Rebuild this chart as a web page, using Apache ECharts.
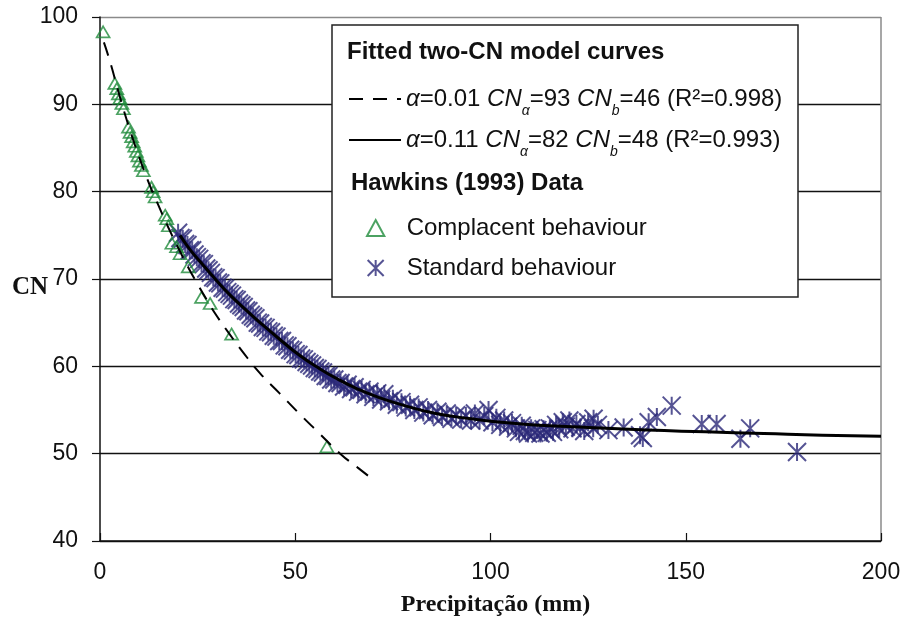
<!DOCTYPE html>
<html><head><meta charset="utf-8">
<script src="https://cdn.jsdelivr.net/npm/echarts@6/dist/echarts.min.js"></script>
<style>html,body{margin:0;padding:0;background:#fff}#c{width:904px;height:620px}</style>
</head><body><div id="c"></div>
<script>
// ---- data ----
const xTicks = [0, 50, 100, 150, 200];
const yTicks = [40, 50, 60, 70, 80, 90, 100];

// Hawkins (1993) – complacent behaviour (P mm, CN)
const complacent = [
  [0.8,98.3],[3.8,92.4],[4.3,91.8],[4.7,91.2],[5.1,90.7],[5.6,90.1],[6.0,89.5],
  [7.3,87.4],[7.7,86.8],[8.1,86.3],[8.5,85.7],[8.9,85.2],[9.3,84.6],[9.7,84.1],
  [10.1,83.5],[10.6,83.0],[11.1,82.4],[13.2,80.5],[13.6,80.0],[14.1,79.4],
  [16.7,77.3],[17.1,76.9],[17.5,76.1],[18.4,74.1],[19.6,73.7],[20.5,72.9],
  [22.6,71.4],[26.0,67.9],[28.2,67.2],[33.7,63.7],[58.1,50.8]
];

// Hawkins (1993) – standard behaviour (P mm, CN)
const standard = [
  [20.0,75.3],[20.6,74.7],[21.2,74.6],[21.8,74.0],[22.4,73.9],[23.0,73.3],[23.6,73.3],[24.2,72.8],
  [24.8,72.5],[25.4,72.3],[26.0,71.8],[26.6,71.7],[27.2,71.2],[27.8,71.0],[28.4,70.7],[29.0,70.2],
  [29.6,70.1],[30.2,69.6],[30.8,69.5],[31.4,69.0],[32.0,68.9],[32.6,68.5],[33.2,68.3],[33.8,68.1],
  [34.4,67.7],[35.0,67.6],[35.6,67.2],[36.2,67.0],[36.8,66.8],[37.4,66.4],[38.0,66.3],[38.6,65.9],
  [39.2,65.7],[39.8,65.5],[40.4,65.0],[41.0,64.9],[41.7,64.5],[42.4,64.4],[43.1,64.0],[43.8,63.9],
  [44.5,63.5],[45.2,63.4],[45.9,62.9],[46.6,62.9],[47.3,62.4],[48.0,62.3],[48.7,61.9],[49.4,61.8],
  [50.1,61.4],[50.8,61.3],[51.5,60.9],[52.2,60.8],[52.9,60.5],[53.6,60.3],[54.3,60.1],[55.0,59.8],
  [55.7,59.7],[56.4,59.4],[57.1,59.3],[57.8,58.9],[58.5,58.9],[59.2,58.5],[60.0,58.5],[60.8,58.1],
  [61.6,58.1],[62.5,57.7],[63.4,57.9],[64.3,57.4],[65.2,57.6],[66.1,57.1],[67.0,57.3],[68.0,56.8],
  [69.0,57.1],[70.0,56.5],[71.0,56.9],[72.0,56.2],[72.8,56.8],[74.0,56.0],[75.0,56.3],[76.0,55.6],
  [77.2,55.9],[78.3,55.3],[79.4,55.6],[80.5,55.0],[81.6,55.3],[82.8,54.7],[84.0,55.0],[85.2,54.4],
  [86.4,54.8],[87.6,54.2],[88.8,54.6],[90.0,54.0],[91.2,54.4],[92.5,53.9],[93.7,54.3],[95.0,53.8],
  [96.0,54.6],[97.2,53.8],[98.4,54.3],[99.5,55.0],[100.5,53.6],[101.5,54.1],[102.5,53.3],[103.5,53.8],
  [104.5,53.1],[105.5,53.5],[106.5,52.9],[107.3,52.5],[108.0,53.2],[108.8,52.6],[109.6,52.3],[110.4,52.9],
  [111.2,52.4],[112.0,52.7],[112.8,52.3],[113.6,52.8],[114.4,52.4],[115.2,52.9],[116.0,52.5],[116.8,53.3],
  [117.6,52.8],[118.5,53.6],[119.3,53.1],[120.2,53.8],[121.0,52.9],[122.0,53.4],[123.0,53.0],[124.0,52.6],
  [125.0,53.6],[126.4,54.0],[126.3,52.9],[127.5,53.3],[130.2,52.7],[134.1,53.0],[138.3,52.1],[139.0,51.8],
  [140.5,53.6],[142.6,54.2],[146.4,55.5],[154.1,53.4],[157.9,53.4],[164.0,51.7],[166.5,52.9],[178.5,50.2]
];

// Fitted two-CN model curves
const curveDashed = [
  [1,97.1],[2.5,95.0],[5,91.0],[7.5,87.3],[10,84.0],[12.5,81.0],[15,78.4],[17.5,75.9],[20,73.6],
  [22.5,71.4],[25,69.4],[27.5,67.5],[30,65.7],[33,63.8],[36.3,61.8],[41,59.2],[46,56.9],[51,54.6],
  [56,52.4],[61.5,50.0],[66,48.4],[70,47.0]
];
const curveSolid = [
  [20.5,75.0],[23,73.4],[26,71.8],[29.5,70.0],[33,68.3],[37,66.6],[41,65.0],[46,63.1],[51,61.3],
  [56,59.8],[61,58.5],[66,57.4],[71,56.5],[78,55.5],[86,54.6],[95,54.0],[105,53.5],[115,53.2],
  [125,53.0],[140,52.7],[155,52.5],[170,52.3],[185,52.1],[200,52.0]
];

const curveNames = ['α=0.01 CNα=93 CNb=46 (R²=0.998)', 'α=0.11 CNα=82 CNb=48 (R²=0.993)'];
const curveRich = [
  '{i|α}{n|=0.01 }{i|CN}{s|α}{n|=93 }{i|CN}{s|b}{n|=46 (R²=0.998)}',
  '{i|α}{n|=0.11 }{i|CN}{s|α}{n|=82 }{i|CN}{s|b}{n|=48 (R²=0.993)}'
];
const dataNames = ['Complacent behaviour', 'Standard behaviour'];
const legendTitles = ['Fitted two-CN model curves', 'Hawkins (1993) Data'];
const xTitle = 'Precipitação (mm)';
const yTitle = 'CN';

// ---- chart ----
const SANS = '"Liberation Sans", Arial, sans-serif';
const SERIF = '"Liberation Serif", "Times New Roman", serif';
const GREEN = '#1f8b3b';
const NAVY = '#2b2878';
const STAR = 'path://M0,0L10,10M10,0L0,10M5,0L5,10';
const TRI = 'path://M6.5,0L13,12L0,12Z';

const chart = echarts.init(document.getElementById('c'), null, {renderer: 'canvas'});
const richStyles = {
  n: {fontSize: 24, fontFamily: SANS, color: '#111', lineHeight: 24},
  i: {fontSize: 24, fontFamily: SANS, fontStyle: 'italic', color: '#111', lineHeight: 24},
  s: {fontSize: 14, fontFamily: SANS, fontStyle: 'italic', color: '#111', lineHeight: 24, padding: [24, 0, 0, 0]}
};

chart.setOption({
  animation: false,
  backgroundColor: '#fff',
  grid: {left: 100, right: 23, top: 17, bottom: 79, containLabel: false, outerBoundsMode: 'none'},
  xAxis: {
    type: 'value', min: xTicks[0], max: xTicks[xTicks.length - 1], interval: 50,
    name: xTitle, nameLocation: 'middle', nameGap: 52,
    nameTextStyle: {fontFamily: SERIF, fontWeight: 'bold', fontSize: 24, color: '#111', padding: [0, 0, 0, 10]},
    axisLine: {onZero: false, lineStyle: {color: '#111', width: 1.5}},
    axisTick: {inside: true, length: 8, lineStyle: {color: '#111', width: 1.2}},
    axisLabel: {margin: 20, fontFamily: SANS, fontSize: 23, color: '#111'},
    splitLine: {show: true, lineStyle: {color: ['rgba(0,0,0,0)', 'rgba(0,0,0,0)', 'rgba(0,0,0,0)', 'rgba(0,0,0,0)', '#8a8a8a'], width: 1.5}}
  },
  yAxis: {
    type: 'value', min: yTicks[0], max: yTicks[yTicks.length - 1], interval: 10,
    axisLine: {onZero: false, lineStyle: {color: '#111', width: 1.5}},
    axisTick: {inside: false, length: 8, lineStyle: {color: '#111', width: 1.2}},
    axisLabel: {margin: 22, fontFamily: SANS, fontSize: 23, color: '#111'},
    splitLine: {show: true, lineStyle: {color: ['#111', '#111', '#111', '#111', '#111', '#111', '#8a8a8a'], width: 1.3}}
  },
  graphic: [
    {type: 'rect', z: 5, shape: {x: 332, y: 25, width: 466, height: 272}, style: {fill: '#fff', stroke: '#222', lineWidth: 1.5}},
    {type: 'text', z: 10, x: 347, y: 40, style: {text: legendTitles[0], font: 'bold 24px ' + SANS, fill: '#111'}},
    {type: 'text', z: 10, x: 351, y: 171, style: {text: legendTitles[1], font: 'bold 24px ' + SANS, fill: '#111'}},
    {type: 'text', z: 10, x: 12, y: 275, style: {text: yTitle, font: 'bold 25px ' + SERIF, fill: '#111'}}
  ],
  legend: [
    {
      z: 10, orient: 'vertical', left: 348, top: 80, padding: 0, itemWidth: 52, itemHeight: 14, itemGap: 3,
      data: curveNames,
      itemStyle: {color: 'rgba(0,0,0,0)', borderWidth: 0, opacity: 0},
      formatter: name => curveRich[curveNames.indexOf(name)],
      textStyle: {rich: richStyles}
    },
    {
      z: 10, orient: 'vertical', left: 366, top: 216, padding: 0, itemWidth: 52, itemHeight: 16, itemGap: 16,
      symbolKeepAspect: true,
      data: dataNames,
      textStyle: {fontFamily: SANS, fontSize: 24, color: '#111', lineHeight: 24}
    }
  ],
  series: [
    {
      name: dataNames[1], type: 'scatter', data: standard, symbol: STAR, symbolSize: 18, z: 2, symbolKeepAspect: true,
      itemStyle: {color: 'rgba(0,0,0,0)', borderColor: NAVY, borderWidth: 2}
    },
    {
      name: dataNames[0], type: 'scatter', data: complacent, symbol: TRI, symbolSize: [13, 12], z: 2, symbolKeepAspect: true,
      itemStyle: {color: 'rgba(0,0,0,0)', borderColor: GREEN, borderWidth: 1.7}
    },
    {
      name: curveNames[0], type: 'line', data: curveDashed, smooth: true, symbol: 'none', showSymbol: false, z: 3,
      itemStyle: {color: '#000'},
      lineStyle: {color: '#000', width: 2, type: [14, 10]}
    },
    {
      name: curveNames[1], type: 'line', data: curveSolid, smooth: true, symbol: 'none', showSymbol: false, z: 3,
      itemStyle: {color: '#000'},
      lineStyle: {color: '#000', width: 3}
    }
  ]
});
</script>
</body></html>
